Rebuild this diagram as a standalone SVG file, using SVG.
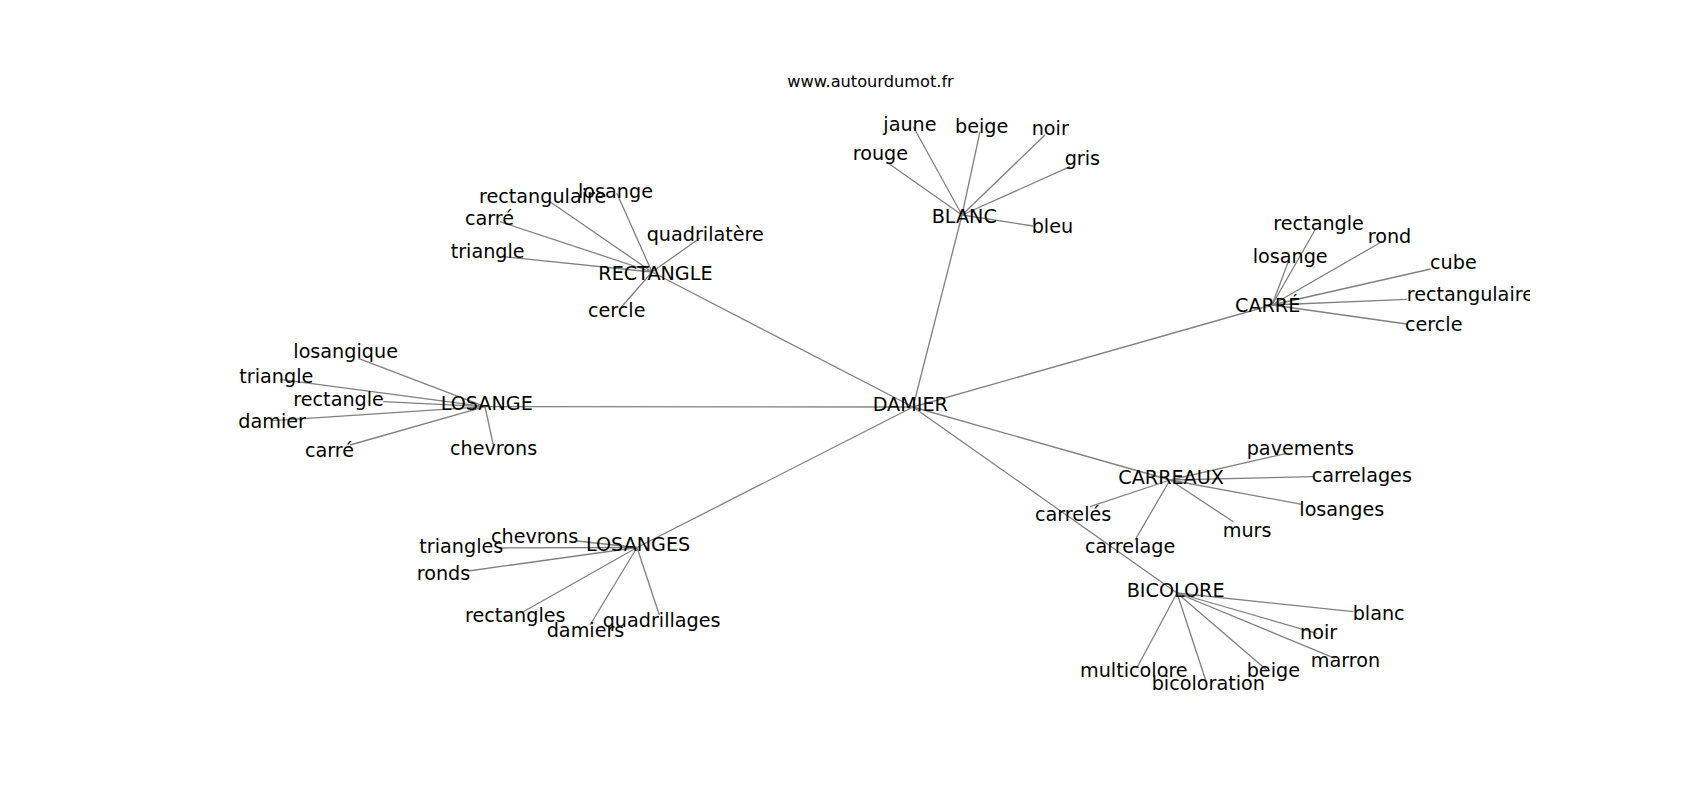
<svg xmlns="http://www.w3.org/2000/svg" width="1700" height="800" viewBox="0 0 1700 800">
<style>
text{font-family:"DejaVu Sans","Liberation Sans",sans-serif;font-size:19.2px;fill:#000}
.t{font-size:16.2px}
.e line{stroke:#808080;stroke-width:1.3}
</style>
<defs><clipPath id="ax"><rect x="212.5" y="96" width="1317.5" height="616"/></clipPath></defs>
<rect width="1700" height="800" fill="#fff"/>
<text class="t" x="870.5" y="87.3" text-anchor="middle">www.autourdumot.fr</text>
<g clip-path="url(#ax)">
<g id="edges" class="e">
<line x1="913" y1="407" x2="652" y2="272"/>
<line x1="913" y1="407" x2="962" y2="215"/>
<line x1="913" y1="407" x2="1272" y2="305"/>
<line x1="913" y1="407" x2="485" y2="406.7"/>
<line x1="913" y1="407" x2="637" y2="547.5"/>
<line x1="913" y1="407" x2="1170" y2="480"/>
<line x1="913" y1="407" x2="1177" y2="593"/>
<line x1="652" y1="272" x2="550" y2="201.7"/>
<line x1="652" y1="272" x2="616.7" y2="193"/>
<line x1="652" y1="272" x2="500" y2="221.7"/>
<line x1="652" y1="272" x2="503" y2="256.7"/>
<line x1="652" y1="272" x2="700" y2="238"/>
<line x1="652" y1="272" x2="621.7" y2="306.7"/>
<line x1="962" y1="215" x2="913.3" y2="126.7"/>
<line x1="962" y1="215" x2="980" y2="131.7"/>
<line x1="962" y1="215" x2="1045" y2="135"/>
<line x1="962" y1="215" x2="1070" y2="166.7"/>
<line x1="962" y1="215" x2="888.3" y2="163.3"/>
<line x1="962" y1="215" x2="1033.3" y2="226"/>
<line x1="1272" y1="305" x2="1315" y2="230"/>
<line x1="1272" y1="305" x2="1380" y2="242.7"/>
<line x1="1272" y1="305" x2="1288.3" y2="261.7"/>
<line x1="1272" y1="305" x2="1430.7" y2="269"/>
<line x1="1272" y1="305" x2="1406.7" y2="299.3"/>
<line x1="1272" y1="305" x2="1406.7" y2="324"/>
<line x1="485" y1="406.7" x2="358.3" y2="358.3"/>
<line x1="485" y1="406.7" x2="280" y2="379.3"/>
<line x1="485" y1="406.7" x2="383.3" y2="401.7"/>
<line x1="485" y1="406.7" x2="273.3" y2="420.7"/>
<line x1="485" y1="406.7" x2="350" y2="445"/>
<line x1="485" y1="406.7" x2="493.3" y2="445"/>
<line x1="637" y1="547.5" x2="577" y2="541"/>
<line x1="637" y1="547.5" x2="500" y2="548"/>
<line x1="637" y1="547.5" x2="468.3" y2="571"/>
<line x1="637" y1="547.5" x2="523.3" y2="611.7"/>
<line x1="637" y1="547.5" x2="590" y2="625"/>
<line x1="637" y1="547.5" x2="659.3" y2="615"/>
<line x1="1170" y1="480" x2="1286.7" y2="453.3"/>
<line x1="1170" y1="480" x2="1313.3" y2="476.7"/>
<line x1="1170" y1="480" x2="1301.7" y2="504.3"/>
<line x1="1170" y1="480" x2="1233.3" y2="521.7"/>
<line x1="1170" y1="480" x2="1090" y2="506.7"/>
<line x1="1170" y1="480" x2="1135" y2="540"/>
<line x1="1177" y1="593" x2="1353.3" y2="611.7"/>
<line x1="1177" y1="593" x2="1316.7" y2="633.3"/>
<line x1="1177" y1="593" x2="1335" y2="658.3"/>
<line x1="1177" y1="593" x2="1266.7" y2="670"/>
<line x1="1177" y1="593" x2="1136.7" y2="668.3"/>
<line x1="1177" y1="593" x2="1206.7" y2="683.3"/>
</g>
<g id="n-damier"><text x="872.7" y="410.7">DAMIER</text></g>
<g id="n-rectangle"><text x="598.3" y="280">RECTANGLE</text></g>
<g id="n-rectangle-rectangulaire"><text x="479" y="203.3">rectangulaire</text></g>
<g id="n-rectangle-losange"><text x="578" y="198">losange</text></g>
<g id="n-rectangle-carre"><text x="465" y="225">carré</text></g>
<g id="n-rectangle-triangle"><text x="450.7" y="258.3">triangle</text></g>
<g id="n-rectangle-quadrilatere"><text x="646.7" y="241">quadrilatère</text></g>
<g id="n-rectangle-cercle"><text x="588" y="316.7">cercle</text></g>
<g id="n-blanc"><text x="931.7" y="223.3">BLANC</text></g>
<g id="n-blanc-jaune"><text x="883.3" y="130.7">jaune</text></g>
<g id="n-blanc-beige"><text x="955" y="133.3">beige</text></g>
<g id="n-blanc-noir"><text x="1031.7" y="135">noir</text></g>
<g id="n-blanc-gris"><text x="1064.7" y="165">gris</text></g>
<g id="n-blanc-rouge"><text x="852.7" y="160">rouge</text></g>
<g id="n-blanc-bleu"><text x="1031.7" y="233.3">bleu</text></g>
<g id="n-carre"><text x="1235" y="312.3">CARRÉ</text></g>
<g id="n-carre-rectangle"><text x="1273.3" y="230">rectangle</text></g>
<g id="n-carre-rond"><text x="1367.7" y="242.7">rond</text></g>
<g id="n-carre-losange"><text x="1252.7" y="262.7">losange</text></g>
<g id="n-carre-cube"><text x="1430" y="269.3">cube</text></g>
<g id="n-carre-rectangulaire"><text x="1406.7" y="301">rectangulaire</text></g>
<g id="n-carre-cercle"><text x="1405" y="331">cercle</text></g>
<g id="n-losange"><text x="440.7" y="410">LOSANGE</text></g>
<g id="n-losange-losangique"><text x="293.3" y="358.3">losangique</text></g>
<g id="n-losange-triangle"><text x="239.3" y="383.3">triangle</text></g>
<g id="n-losange-rectangle"><text x="293.3" y="406">rectangle</text></g>
<g id="n-losange-damier"><text x="238.3" y="428.3">damier</text></g>
<g id="n-losange-carre"><text x="305" y="456.7">carré</text></g>
<g id="n-losange-chevrons"><text x="450" y="455">chevrons</text></g>
<g id="n-losanges"><text x="586" y="550.7">LOSANGES</text></g>
<g id="n-losanges-chevrons"><text x="491" y="543.3">chevrons</text></g>
<g id="n-losanges-triangles"><text x="419.3" y="553.3">triangles</text></g>
<g id="n-losanges-ronds"><text x="416.7" y="580">ronds</text></g>
<g id="n-losanges-rectangles"><text x="465" y="621.7">rectangles</text></g>
<g id="n-losanges-damiers"><text x="546.7" y="636.7">damiers</text></g>
<g id="n-losanges-quadrillages"><text x="602.7" y="626.7">quadrillages</text></g>
<g id="n-carreaux"><text x="1118.3" y="484.3">CARREAUX</text></g>
<g id="n-carreaux-pavements"><text x="1246.7" y="455">pavements</text></g>
<g id="n-carreaux-carrelages"><text x="1311.7" y="482.3">carrelages</text></g>
<g id="n-carreaux-losanges"><text x="1299.3" y="515.7">losanges</text></g>
<g id="n-carreaux-murs"><text x="1222.7" y="536.7">murs</text></g>
<g id="n-carreaux-carreles"><text x="1035" y="520.7">carrelés</text></g>
<g id="n-carreaux-carrelage"><text x="1085" y="553.3">carrelage</text></g>
<g id="n-bicolore"><text x="1126.7" y="596.7">BICOLORE</text></g>
<g id="n-bicolore-blanc"><text x="1352.7" y="620">blanc</text></g>
<g id="n-bicolore-noir"><text x="1300" y="639.3">noir</text></g>
<g id="n-bicolore-marron"><text x="1310.7" y="667.3">marron</text></g>
<g id="n-bicolore-beige"><text x="1246.7" y="676.7">beige</text></g>
<g id="n-bicolore-multicolore"><text x="1080" y="676.7">multicolore</text></g>
<g id="n-bicolore-bicoloration"><text x="1151.7" y="689.5">bicoloration</text></g>
</g>
</svg>
